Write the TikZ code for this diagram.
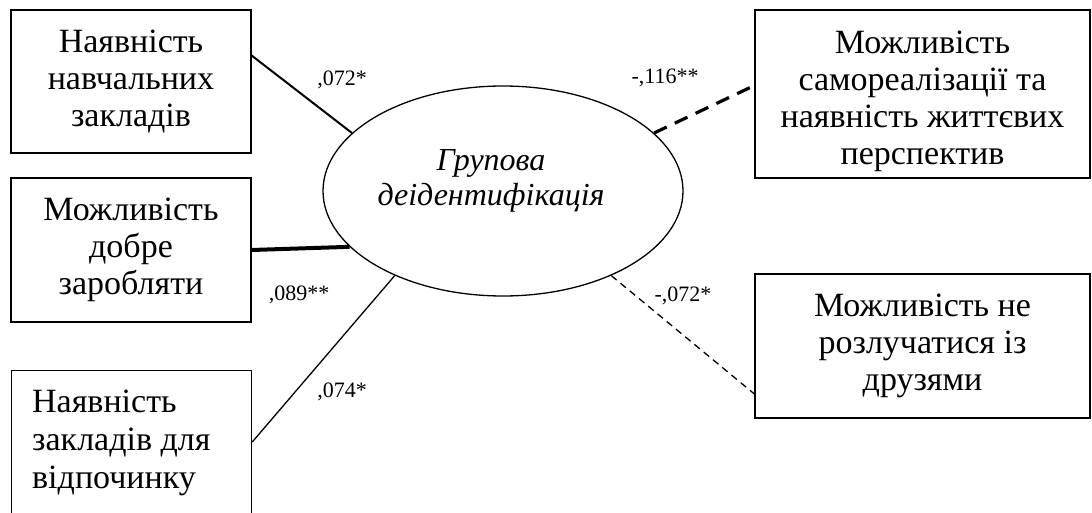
\documentclass[tikz,border=0pt]{standalone}
\usepackage{fontspec}
\setmainfont{Liberation Serif}
\usetikzlibrary{shapes.geometric,calc}
\begin{document}
\begin{tikzpicture}[x=1pt,y=-1pt,
  box/.style={draw,line width=1.3pt,inner sep=0pt,align=center,font=\fontsize{34}{37}\selectfont},
  boxtext/.style={inner sep=0pt,font=\fontsize{34}{37}\selectfont},
  coef/.style={font=\fontsize{22}{24}\selectfont,inner sep=0pt},
  conn/.style={line width=1.3pt}]
\useasboundingbox (0,0) rectangle (1092,513);
\clip (0,0) rectangle (1092,513);
% boxes
\node[box,minimum width=240pt,minimum height=143pt] (b1) at (131,81.5) {Наявність\\навчальних\\закладів};
\node[box,minimum width=240pt,minimum height=144pt] (b2) at (131,250) {Можливість\\добре\\заробляти};
\node[box,anchor=north west,minimum width=240pt,minimum height=170pt] (b3) at (11,370) {};
\node[boxtext,anchor=west,align=left,font=\fontsize{34}{38}\selectfont] (t3) at (32,443) {Наявність\\закладів для\\відпочинку};
\node[box,minimum width=335pt,minimum height=168pt] (b4) at (922.5,94) {};
\node[boxtext,align=center] (t4) at (922.5,101) {Можливість\\самореалізації та\\наявність життєвих\\перспектив};
\node[box,minimum width=335pt,minimum height=144pt] (b5) at (922.5,346) {Можливість не\\розлучатися із\\друзями};
% ellipse
\node[draw,ellipse,line width=1.3pt,minimum width=360pt,minimum height=210pt,inner sep=0pt] (e) at (503,191) {};
\node[inner sep=0pt,align=center,font=\fontsize{32}{35}\selectfont\itshape] (et) at (491,181) {Групова\\деідентифікація};
% connectors
\draw[line width=2pt] ($(b1.north east)!0.32!(b1.south east)$) -- (e.159);
\draw[line width=4pt] (b2.east) -- (e.200.7);
\draw[conn] ($(b3.north east)!0.42!(b3.south east)$) -- (e.218);
\draw[line width=3.2pt,dash pattern=on 14pt off 9pt] (e.21.2) -- ($(b4.north west)!0.45!(b4.south west)$);
\draw[conn,dash pattern=on 7pt off 5pt] (e.322.3) -- ($(b5.north west)!0.83!(b5.south west)$);
% coefficients
\node[coef] (c1) at (342,80) {,072*};
\node[coef] (c2) at (299,295) {,089**};
\node[coef] (c3) at (342,392) {,074*};
\node[coef] (c4) at (665,78) {-,116**};
\node[coef] (c5) at (683,296) {-,072*};
\end{tikzpicture}
\end{document}
